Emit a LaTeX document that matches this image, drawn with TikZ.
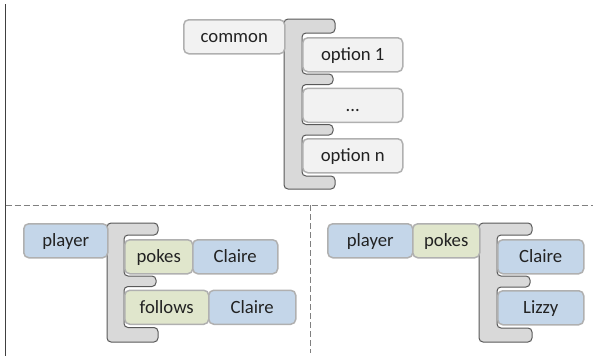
\documentclass[tikz,border=0pt]{standalone}
\usepackage{fontspec}
\setmainfont{Carlito}
\definecolor{plainfill}{HTML}{F2F2F2}
\definecolor{bluefill}{HTML}{C4D6E9}
\definecolor{greenfill}{HTML}{E0E6CC}
\definecolor{boxline}{HTML}{B0B0B0}
\definecolor{bracketfill}{HTML}{D9D9D9}
\definecolor{bracketline}{HTML}{595959}
\definecolor{textcol}{HTML}{222222}
\definecolor{frameline}{HTML}{404040}
\definecolor{dashline}{HTML}{808080}
\tikzset{
  block/.style={draw=boxline, line width=1.5pt, rounded corners=5pt,
    anchor=north west, minimum height=34pt, inner sep=0pt,
    text height=14pt, text depth=2pt, text=textcol,
    font=\fontsize{18.7}{22}\selectfont},
  plainblock/.style={block, fill=plainfill},
  blueblock/.style={block, fill=bluefill},
  greenblock/.style={block, fill=greenfill},
  bracketshape/.style={fill=bracketfill, draw=bracketline, line width=1pt,
    rounded corners=4pt},
  solidframe/.style={draw=frameline, line width=1.2pt},
  dashframe/.style={draw=dashline, line width=1pt, dash pattern=on 6pt off 3pt}
}
\begin{document}
\begin{tikzpicture}[x=1pt, y=-1pt]
\useasboundingbox (0,0) rectangle (593,356);

% panel frame
\draw[solidframe] (5.5,4) -- (5.5,356);
\draw[dashframe] (5.5,205) -- (593,205);
\draw[dashframe] (310,205) -- (310,353);

% brackets holding the alternatives
\path[bracketshape] (284,19) -- (335,19) -- (335,33) -- (302,33)
  -- (302,74) -- (333,74) -- (333,84.5) -- (302,84.5)
  -- (302,124.5) -- (333,124.5) -- (333,135) -- (302,135)
  -- (302,176) -- (335,176) -- (335,189) -- (284,189) -- cycle;
\path[bracketshape] (107,223) -- (158,223) -- (158,235) -- (124,235)
  -- (124,276) -- (156,276) -- (156,286.5) -- (124,286.5)
  -- (124,327.5) -- (158,327.5) -- (158,342) -- (107,342) -- cycle;
\path[bracketshape] (479,223) -- (532,223) -- (532,235) -- (497,235)
  -- (497,276) -- (530,276) -- (530,287) -- (497,287)
  -- (497,328) -- (532,328) -- (532,342) -- (479,342) -- cycle;

% general pattern
\node[plainblock, minimum width=101pt] (common) at (183,19) {common};
\node[plainblock, minimum width=100pt] (opt1) at (302,37) {option 1};
\node[plainblock, minimum width=100pt] (optdots) at (302,87.5) {...};
\node[plainblock, minimum width=100pt] (optn) at (302,138) {option n};

% shared subject
\node[blueblock, minimum width=84pt] (playerL) at (23,223) {player};
\node[greenblock, minimum width=68pt] (pokesL) at (124,239) {pokes};
\node[blueblock, minimum width=85pt] (claireL) at (192,239) {Claire};
\node[greenblock, minimum width=84pt] (followsL) at (124,289.5) {follows};
\node[blueblock, minimum width=87pt] (claireL2) at (208,289.5) {Claire};

% shared subject and verb
\node[blueblock, minimum width=85pt] (playerR) at (327,223) {player};
\node[greenblock, minimum width=67pt] (pokesR) at (412,223) {pokes};
\node[blueblock, minimum width=86pt] (claireR) at (497,239) {Claire};
\node[blueblock, minimum width=86pt] (lizzyR) at (497,290) {Lizzy};
\end{tikzpicture}
\end{document}
